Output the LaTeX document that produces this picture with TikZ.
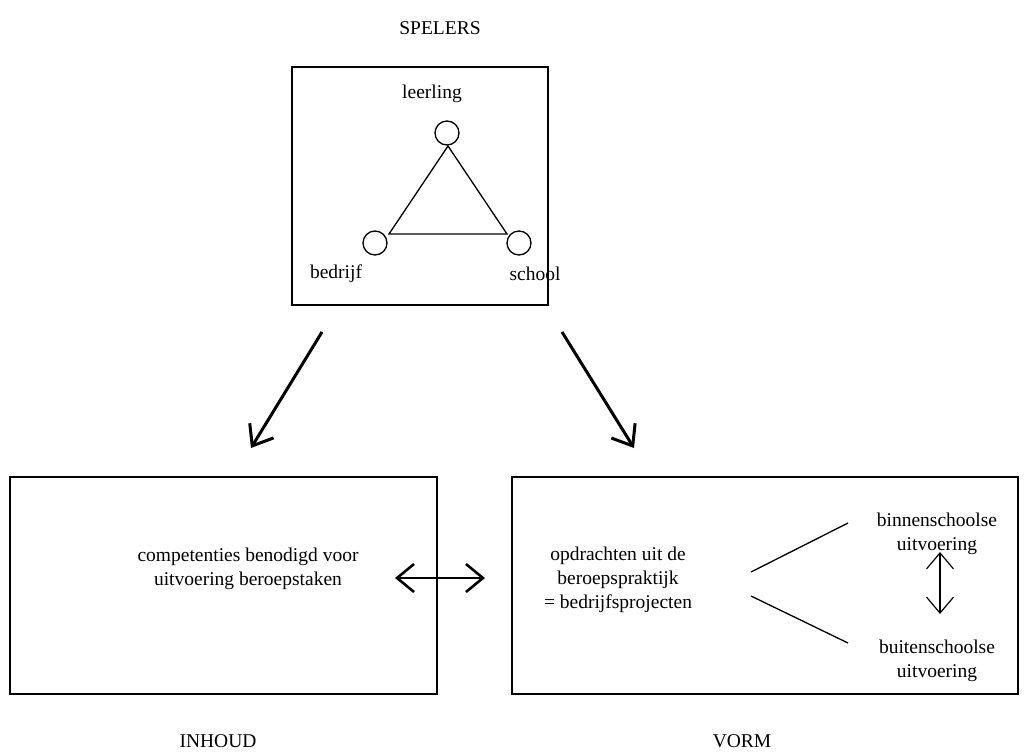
\documentclass[tikz,border=0pt]{standalone}
\usepackage{fontspec}
\setmainfont{Liberation Serif}
\usetikzlibrary{arrows.meta}
\begin{document}
\begin{tikzpicture}[x=1pt,y=-1pt,
  txt/.style={font=\fontsize{19.5}{24}\selectfont, align=center, inner sep=0pt},
  frame/.style={draw, line width=1.6pt},
  dot/.style={draw, circle, line width=1.3pt, minimum size=24pt, inner sep=0pt},
  edge/.style={line width=1.3pt},
  bigarrow/.style={line width=3pt, -{Straight Barb[length=18pt,width=28pt,line width=3pt]}},
  dblarrow/.style={line width=2.6pt, {Straight Barb[length=17pt,width=28pt,line width=2.6pt]}-{Straight Barb[length=17pt,width=28pt,line width=2.6pt]}},
  thinarrow/.style={line width=1.2pt, {Straight Barb[length=16pt,width=27pt,line width=1.2pt]}-{Straight Barb[length=16pt,width=27pt,line width=1.2pt]}}]
\useasboundingbox (0,0) rectangle (1028,753);
\node[txt] (spelers) at (440,28) {SPELERS};
\node[frame, minimum width=256pt, minimum height=238pt, inner sep=0pt] (top) at (420,186) {};
\node[txt] (leerling) at (432,94) {leerling};
\node[dot] (c1) at (447,133) {};
\node[dot] (c2) at (375,243) {};
\node[dot] (c3) at (519,243) {};
\node[txt] (bedrijf) at (336,274) {bedrijf};
\node[txt] (school) at (535,274) {school};
\coordinate (ta) at (448,146);
\coordinate (tl) at (389,234);
\coordinate (tr) at (507,234);
\draw[edge] (ta) -- (tl) -- (tr) -- cycle;

\node[frame, minimum width=427pt, minimum height=217pt, inner sep=0pt] (left) at (223.5,585.5) {};
\node[frame, minimum width=506pt, minimum height=217pt, inner sep=0pt] (right) at (765,585.5) {};

\coordinate (a1s) at (322,332);
\coordinate (a1e) at (251,448);
\coordinate (a2s) at (562,332);
\coordinate (a2e) at (634,448);
\draw[bigarrow] (a1s) -- (a1e);
\draw[bigarrow] (a2s) -- (a2e);

\node[txt] (comp) at (248,569) {competenties benodigd voor\\uitvoering beroepstaken};
\coordinate (d1) at (395,578);
\coordinate (d2) at (485,578);
\draw[dblarrow] (d1) -- (d2);

\node[txt] (opd) at (618,580) {opdrachten uit de\\beroepspraktijk\\= bedrijfsprojecten};
\coordinate (l0a) at (751,572);
\coordinate (l1) at (848,523);
\coordinate (l0b) at (751,596);
\coordinate (l2) at (848,643);
\draw[edge] (l0a) -- (l1);
\draw[edge] (l0b) -- (l2);
\node[txt] (binnen) at (937,534) {binnenschoolse\\uitvoering};
\node[txt] (buiten) at (937,661) {buitenschoolse\\uitvoering};
\coordinate (v1) at (940,552);
\coordinate (v2) at (940,614);
\draw[thinarrow] (v1) -- (v2);

\node[txt] (inhoud) at (218,741) {INHOUD};
\node[txt] (vorm) at (742,741) {VORM};
\end{tikzpicture}
\end{document}
